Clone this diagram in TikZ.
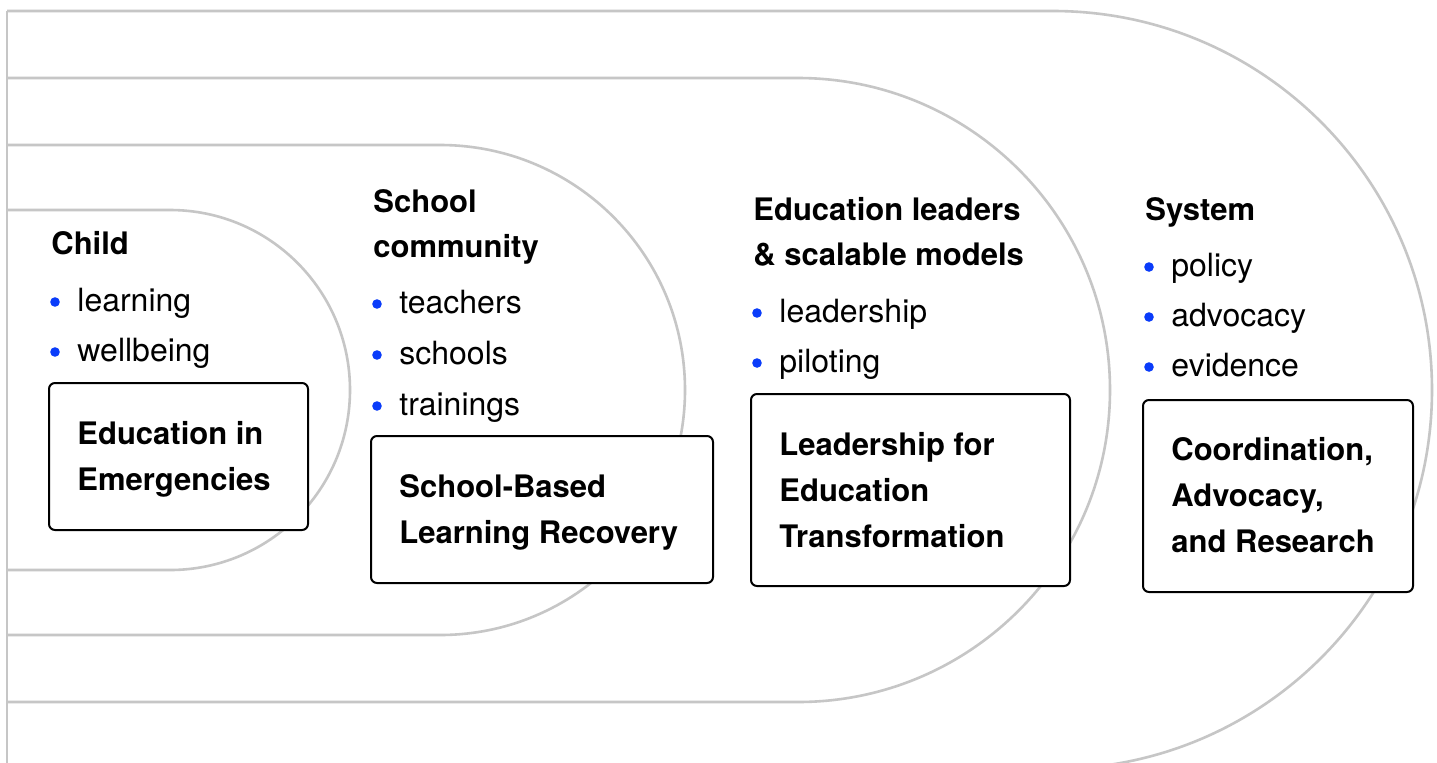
\documentclass[tikz,border=0pt]{standalone}
\usepackage{fontspec}
\setmainfont{TeX Gyre Heros}
\usetikzlibrary{calc}
\definecolor{trackgray}{RGB}{198,198,198}
\definecolor{dotblue}{RGB}{10,60,250}

\begin{document}
\begin{tikzpicture}[x=0.5pt,y=-0.5pt,
    track/.style={draw=trackgray,line width=1.3pt},
    prog/.style={draw=black,fill=white,line width=1pt,rounded corners=3pt},
    head/.style={anchor=base west,inner sep=0pt,font=\fontsize{15.5}{23}\selectfont\bfseries},
    item/.style={anchor=base west,inner sep=0pt,font=\fontsize{16}{20}\selectfont},
    progtext/.style={anchor=west,inner sep=0pt,align=left,font=\fontsize{15.5}{23}\selectfont\bfseries},
    dot/.style={fill=dotblue}]
    \useasboundingbox (0,0) rectangle (1437,762);
    \clip (0,0) rectangle (1437,762);
    \fill[white] (0,0) rectangle (1437,762);
    % tracks, inner to outer
    \draw[track] (7,210) -- (170,210) arc[start angle=-90,end angle=90,radius=180] -- (7,570);
    \draw[track] (7,145) -- (440,145) arc[start angle=-90,end angle=90,radius=245] -- (7,635);
    \draw[track] (7,78) -- (798,78) arc[start angle=-90,end angle=90,radius=312] -- (7,702);
    \draw[track] (7,11) -- (1053,11) arc[start angle=-90,end angle=90,radius=379] -- (7,769);
    \draw[track] (7,11) -- (7,770);

    % child
    \node[head] (hChild) at (51,254) {Child};
    \foreach \w/\y in {learning/311,wellbeing/361}{
        \node[item] (c-\w) at (77,\y) {\w};
        \fill[dot] ([xshift=-11pt,yshift=4.5pt]c-\w.base west) circle (2.4pt);
    }
    \draw[prog] (49,383) rectangle (308,530);
    \node[progtext] (pEiE) at (77,459) {Education in\\Emergencies};

    % school community
    \node[head] (hSchool) at (373,212) {School};
    \node[head] (hCommunity) at (373,257) {community};
    \foreach \w/\y in {teachers/313,schools/364,trainings/415}{
        \node[item] (s-\w) at (399,\y) {\w};
        \fill[dot] ([xshift=-11pt,yshift=4.5pt]s-\w.base west) circle (2.4pt);
    }
    \draw[prog] (371,436) rectangle (713,583);
    \node[progtext] (pSBLR) at (399,512) {School-Based\\Learning Recovery};

    % leaders
    \node[head] (hLeaders) at (753,220) {Education leaders};
    \node[head] (hModels) at (753,265) {\& scalable models};
    \foreach \w/\y in {leadership/322,piloting/372}{
        \node[item] (l-\w) at (779,\y) {\w};
        \fill[dot] ([xshift=-11pt,yshift=4.5pt]l-\w.base west) circle (2.4pt);
    }
    \draw[prog] (751,394) rectangle (1070,586);
    \node[progtext] (pLET) at (779,490) {Leadership for\\Education\\Transformation};

    % system
    \node[head] (hSystem) at (1145,220) {System};
    \foreach \w/\y in {policy/276,advocacy/326,evidence/376}{
        \node[item] (y-\w) at (1171,\y) {\w};
        \fill[dot] ([xshift=-11pt,yshift=4.5pt]y-\w.base west) circle (2.4pt);
    }
    \draw[prog] (1143,400) rectangle (1413,592);
    \node[progtext] (pCAR) at (1171,495) {Coordination,\\Advocacy,\\and Research};
\end{tikzpicture}
\end{document}
